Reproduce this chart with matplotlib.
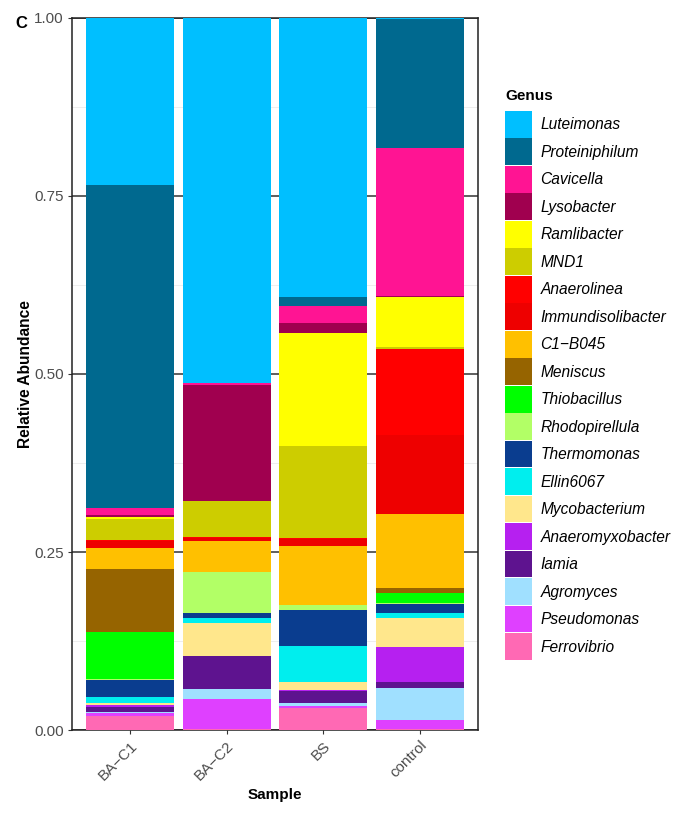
import numpy as np
import matplotlib.pyplot as plt
from matplotlib.patches import Patch

plt.rcParams['font.family'] = ['Liberation Sans', 'DejaVu Sans']

samples = ["BA\u2212C1", "BA\u2212C2", "BS", "control"]

# legend order (top of the stack first)
genus = ["Luteimonas", "Proteiniphilum", "Cavicella", "Lysobacter", "Ramlibacter",
         "MND1", "Anaerolinea", "Immundisolibacter", "C1\u2212B045", "Meniscus",
         "Thiobacillus", "Rhodopirellula", "Thermomonas", "Ellin6067", "Mycobacterium",
         "Anaeromyxobacter", "Iamia", "Agromyces", "Pseudomonas", "Ferrovibrio"]
colors = ["#00BFFF", "#00698F", "#FF1493", "#A0004F", "#FFFF00",
          "#CDCD00", "#FF0000", "#EE0000", "#FFC000", "#966400",
          "#00FF00", "#B2FF66", "#0A3D8F", "#00EEEE", "#FFE78C",
          "#B620F0", "#5E138F", "#A0E0FF", "#DF40FF", "#FF69B4"]

# relative abundance per sample, same order as genus
ba_c1 = [0.235, 0.453, 0.010, 0.003, 0.003, 0.029, 0.002, 0.009, 0.030, 0.088,
         0.066, 0.001, 0.025, 0.008, 0.003, 0.002, 0.007, 0.002, 0.004, 0.020]
ba_c2 = [0.512, 0.001, 0.002, 0.163, 0.000, 0.051, 0.001, 0.004, 0.044, 0.000,
         0.000, 0.058, 0.006, 0.008, 0.046, 0.000, 0.046, 0.014, 0.042, 0.002]
bs = [0.392, 0.012, 0.024, 0.014, 0.159, 0.129, 0.002, 0.010, 0.082, 0.000,
      0.001, 0.007, 0.050, 0.051, 0.011, 0.001, 0.017, 0.004, 0.003, 0.031]
control = [0.002, 0.181, 0.208, 0.001, 0.070, 0.003, 0.121, 0.111, 0.103, 0.008,
           0.014, 0.001, 0.013, 0.006, 0.042, 0.049, 0.008, 0.045, 0.013, 0.001]

data = np.array([ba_c1, ba_c2, bs, control])  # samples x genus

fig = plt.figure(figsize=(6.92, 8.13), dpi=100)
ax = fig.add_axes([0.104, 0.102, 0.587, 0.876])

x = np.arange(1, len(samples) + 1)
bottom = np.zeros(len(samples))
# stack from the last genus (bottom) to the first (top)
for i in range(len(genus) - 1, -1, -1):
    ax.bar(x, data[:, i], bottom=bottom, width=0.91, color=colors[i],
           linewidth=0, zorder=3)
    bottom += data[:, i]

ax.set_xlim(0.4, 4.6)
ax.set_ylim(0, 1)
ax.set_yticks([0, 0.25, 0.5, 0.75, 1.0])
ax.set_yticklabels(["0.00", "0.25", "0.50", "0.75", "1.00"])
ax.set_yticks([0.125, 0.375, 0.625, 0.875], minor=True)
ax.set_xticks(x)
ax.set_xticklabels(samples, rotation=45, ha="right", va="top", rotation_mode="anchor")

ax.grid(axis="y", which="major", color="#333333", linewidth=1.1, zorder=1)
ax.grid(axis="y", which="minor", color="#EBEBEB", linewidth=0.6, zorder=1)
ax.tick_params(axis="both", which="major", length=3, color="#333333",
               labelsize=11, labelcolor="#4D4D4D", pad=3)
ax.tick_params(axis="y", which="minor", length=0)
for s in ax.spines.values():
    s.set_color("#222222")
    s.set_linewidth(1.1)

ax.set_ylabel("Relative Abundance", fontsize=11.2, fontweight="bold", labelpad=1)
ax.set_xlabel("Sample", fontsize=11, fontweight="bold", labelpad=4)

fig.text(15 / 692, 1 - 23 / 813, "C", fontsize=12, fontweight="bold",
         va="center", ha="left")

# legend
fig.text(505 / 692, 1 - 96 / 813, "Genus", fontsize=11, fontweight="bold",
         va="center", ha="left")
handles = [Patch(facecolor=c, edgecolor="none") for c in colors]
leg = fig.legend(handles, genus, loc="upper left",
                 bbox_to_anchor=(505 / 692, 1 - 111 / 813),
                 frameon=False, fontsize=11.2,
                 handlelength=1.72, handleheight=2.25, labelspacing=0.06,
                 handletextpad=0.57, borderpad=0, borderaxespad=0)
for t in leg.get_texts():
    t.set_fontstyle("italic")

fig.savefig("out.png", dpi=100)
